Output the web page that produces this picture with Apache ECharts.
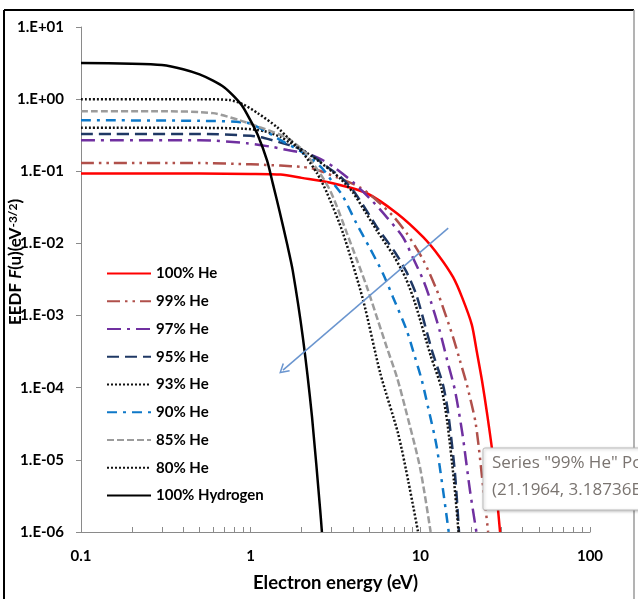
<!DOCTYPE html>
<html>
<head>
<meta charset="utf-8">
<script src="https://cdn.jsdelivr.net/npm/echarts@6/dist/echarts.min.js"></script>
<style>
  html, body { margin: 0; padding: 0; background: #fff; }
  #chart { width: 638px; height: 599px; }
</style>
</head>
<body>
<div id="chart"></div>
<script>
// EEDF curves: electron energy (eV) and F(u) (eV^-3/2)
const energyHe100 = [0.1, 0.5, 1.0, 1.5, 2.0, 3.0, 4.8, 7.3, 10.4, 13.0, 15.6, 17.6, 20.1, 21.5, 23.1, 24.7, 26.8, 29.5]
const eedfHe100 = [0.093, 0.093, 0.092, 0.09, 0.081, 0.069, 0.05, 0.026, 0.0122, 0.0065, 0.0034, 0.0018, 0.00075, 0.00032, 0.000125, 0.000045, 0.000011, 0.000001]

const energyHe99 = [0.1, 0.5, 1.0, 1.5, 2.0, 2.3, 3.2, 4.4, 5.5, 6.9, 8.3, 10.4, 12.5, 13.6, 15.6, 17.1, 18.8, 21.2, 23.4, 25.1]
const eedfHe99 = [0.13, 0.13, 0.125, 0.12, 0.115, 0.11, 0.083, 0.06, 0.04, 0.024, 0.0139, 0.0059, 0.00225, 0.0013, 0.0005, 0.00024, 0.00011, 0.0000319, 0.0000044, 0.000001]

const energyHe97 = [0.1, 0.5, 0.95, 1.35, 1.65, 2.25, 2.7, 3.1, 4.0, 5.25, 6.35, 7.9, 9.0, 10.4, 11.5, 13.0, 14.4, 16.0, 17.7, 19.6, 21.4]
const eedfHe97 = [0.27, 0.27, 0.245, 0.217, 0.197, 0.17, 0.14, 0.114, 0.071, 0.038, 0.023, 0.0122, 0.0065, 0.0031, 0.0016, 0.00062, 0.00024, 0.000092, 0.000023, 0.0000038, 0.000001]

const energyHe95 = [0.1, 0.5, 1.0, 1.2, 1.5, 1.9, 2.3, 2.9, 3.4, 4.0, 4.8, 5.55, 7.1, 8.3, 9.5, 11.7, 13.6, 14.6, 16.0, 16.9]
const eedfHe95 = [0.33, 0.33, 0.31, 0.29, 0.25, 0.21, 0.165, 0.11, 0.083, 0.055, 0.029, 0.0168, 0.0075, 0.004, 0.0019, 0.00033, 0.00011, 0.000044, 0.0000065, 0.000001]

const energyHe93 = [0.1, 0.5, 0.9, 1.2, 1.5, 1.7, 2.0, 2.5, 3.0, 3.4, 4.0, 4.8, 5.55, 7.0, 8.2, 9.3, 11.5, 13.3, 14.4, 15.8, 16.8]
const eedfHe93 = [0.4, 0.4, 0.39, 0.36, 0.3, 0.25, 0.2, 0.14, 0.1, 0.078, 0.051, 0.026, 0.015, 0.0066, 0.0033, 0.0015, 0.00028, 0.0001, 0.000034, 0.000005, 0.000001]

const energyHe90 = [0.1, 0.5, 0.95, 1.2, 1.5, 2.0, 2.6, 3.2, 3.5, 4.2, 5.0, 6.0, 6.9, 8.3, 9.3, 10.2, 11.1, 12.5, 14.7]
const eedfHe90 = [0.51, 0.5, 0.47, 0.37, 0.27, 0.185, 0.114, 0.06, 0.045, 0.019, 0.0089, 0.0039, 0.0018, 0.00063, 0.000265, 0.000127, 0.000054, 0.000015, 0.000001]

const energyHe85 = [0.1, 0.3, 0.6, 0.86, 1.13, 1.64, 2.03, 2.56, 2.93, 3.23, 3.69, 4.23, 4.84, 5.62, 6.35, 7.28, 8.12, 9.95, 11.5]
const eedfHe85 = [0.68, 0.68, 0.64, 0.51, 0.41, 0.29, 0.196, 0.094, 0.055, 0.032, 0.0139, 0.0059, 0.0025, 0.00086, 0.00036, 0.00014, 0.000054, 0.0000079, 0.000001]

const energyHe80 = [0.1, 0.5, 0.75, 0.9, 1.1, 1.43, 1.71, 2.03, 2.46, 2.82, 3.5, 4.6, 5.8, 7.4, 8.5, 9.7]
const eedfHe80 = [1.0, 1.0, 0.97, 0.85, 0.64, 0.41, 0.27, 0.18, 0.094, 0.05, 0.0139, 0.00164, 0.00016, 0.000023, 0.000005, 0.000001]

const energyH2 = [0.1, 0.2, 0.3, 0.4, 0.5, 0.6, 0.7, 0.8, 0.9, 1.0, 1.1, 1.25, 1.35, 1.48, 1.64, 1.77, 2.03, 2.3, 2.57, 2.63]
const eedfH2 = [3.16, 3.1, 2.97, 2.6, 2.2, 1.8, 1.45, 1.08, 0.78, 0.5, 0.32, 0.14, 0.068, 0.028, 0.0098, 0.0042, 0.0005, 0.000039, 0.000002, 0.000001]

// trend arrow (from, to) in data units
const arrowFrom = [14.6, 0.0163]
const arrowTo = [1.55, 0.000175]

// x axis tick positions (log decades plus 2..9)
const xTickValues = [0.1, 0.2, 0.3, 0.4, 0.5, 0.6, 0.7, 0.8, 0.9, 1, 2, 3, 4, 5, 6, 7, 8, 9, 10, 20, 30, 40, 50, 60, 70, 80, 90, 100]

const FONT = 'Lato'

const pairs = (xs, ys) => xs.map((x, i) => [x, ys[i]])

const makeSeries = (name, xs, ys, color, type, width) => ({
  name: name,
  type: 'line',
  data: pairs(xs, ys),
  symbol: 'none',
  smooth: 0.25,
  clip: true,
  lineStyle: { color: color, width: width || 2.5, type: type },
  itemStyle: { color: color },
})

const series = [
  makeSeries('100% He', energyHe100, eedfHe100, '#FF0000', 'solid'),
  makeSeries('99% He', energyHe99, eedfHe99, '#B0504B', [13, 5, 2.5, 5, 2.5, 5]),
  makeSeries('97% He', energyHe97, eedfHe97, '#7030A0', [14, 6, 3, 6]),
  makeSeries('95% He', energyHe95, eedfHe95, '#1F3864', [12, 6]),
  makeSeries('93% He', energyHe93, eedfHe93, '#111111', [2, 2]),
  makeSeries('90% He', energyHe90, eedfHe90, '#0E78C8', [10, 6, 3, 6]),
  makeSeries('85% He', energyHe85, eedfHe85, '#9C9C9C', [7, 3]),
  makeSeries('80% He', energyHe80, eedfHe80, '#111111', [2, 2]),
  makeSeries('100% Hydrogen', energyH2, eedfH2, '#000000', 'solid'),
]

// arrow annotation rides on the hydrogen series
series[8].markLine = {
  silent: true,
  animation: false,
  symbol: ['none', 'path://M5,0 L10,9 L8.8,9.8 L5,2.8 L1.2,9.8 L0,9 Z'],
  symbolSize: [11, 10],
  label: { show: false },
  lineStyle: { color: '#6A95CF', width: 1.5, type: 'solid' },
  data: [[{ coord: arrowFrom }, { coord: arrowTo }]],
}

const expLabel = v => {
  const e = Math.round(Math.log10(v))
  return '1.E' + (e < 0 ? '-' : '+') + String(Math.abs(e)).padStart(2, '0')
}

const chart = echarts.init(document.getElementById('chart'))

const option = {
  animation: false,
  backgroundColor: '#ffffff',
  textStyle: { fontFamily: FONT },
  grid: { left: 81, right: 48, top: 27, bottom: 67, containLabel: false, outerBoundsMode: 'none' },
  legend: {
    orient: 'vertical',
    left: 101,
    top: 261,
    itemWidth: 44,
    itemHeight: 14,
    itemGap: 12.75,
    itemStyle: { opacity: 0 },
    data: series.map(s => s.name),
    textStyle: { fontFamily: FONT, fontWeight: 'bold', fontSize: 15, color: '#000' },
  },
  xAxis: {
    type: 'log',
    logBase: 10,
    min: 0.1,
    max: 100,
    name: 'Electron energy (eV)',
    nameLocation: 'middle',
    nameGap: 42,
    nameTextStyle: { fontFamily: FONT, fontWeight: 'bold', fontSize: 18.5, color: '#000' },
    axisLine: { lineStyle: { color: '#8A8A8A', width: 1 } },
    axisTick: { inside: true, length: 5, lineStyle: { color: '#8A8A8A' }, customValues: xTickValues },
    splitLine: { show: false },
    axisLabel: {
      margin: 17,
      fontFamily: FONT,
      fontWeight: 'bold',
      fontSize: 15,
      color: '#000',
      formatter: v => String(v),
    },
  },
  yAxis: {
    type: 'log',
    logBase: 10,
    min: 0.000001,
    max: 10,
    interval: 1,
    axisLine: { show: true, lineStyle: { color: '#8A8A8A', width: 1 } },
    axisTick: { show: true, length: 5, lineStyle: { color: '#8A8A8A' } },
    splitLine: { show: false },
    axisLabel: {
      margin: 17,
      fontFamily: FONT,
      fontWeight: 'bold',
      fontSize: 15,
      color: '#000',
      formatter: expLabel,
    },
  },
  graphic: [
    // y axis title, rotated, sits over the tick labels as in the original
    {
      type: 'text',
      z: 60,
      x: 16,
      y: 262,
      rotation: Math.PI / 2,
      style: {
        text: '{b|EEDF }{i|F}{b|(u)(eV}{s|-3/2}{b|)}',
        align: 'center',
        verticalAlign: 'middle',
        rich: {
          b: { fontFamily: FONT, fontWeight: 'bold', fontSize: 17, fill: '#000' },
          i: { fontFamily: FONT, fontWeight: 'bold', fontStyle: 'italic', fontSize: 17, fill: '#000' },
          s: { fontFamily: FONT, fontWeight: 'bold', fontSize: 12, fill: '#000', verticalAlign: 'top' },
        },
      },
    },
    // screenshot frame
    { type: 'line', z: 50, shape: { x1: 4, y1: 10, x2: 4, y2: 599 }, style: { stroke: '#000', lineWidth: 2 } },
    { type: 'line', z: 50, shape: { x1: 4, y1: 10, x2: 634, y2: 10 }, style: { stroke: '#000', lineWidth: 2 } },
    { type: 'line', z: 50, shape: { x1: 634, y1: 10, x2: 634, y2: 599 }, style: { stroke: '#9A9A9A', lineWidth: 1.5 } },
    // Excel hover tooltip left in the picture
    {
      type: 'rect',
      z: 100,
      shape: { x: 483, y: 448, width: 170, height: 62, r: 2 },
      style: { fill: '#ffffff', stroke: '#BDBDBD', lineWidth: 1, shadowBlur: 3, shadowOffsetX: 1, shadowOffsetY: 1, shadowColor: 'rgba(0,0,0,0.25)' },
    },
    {
      type: 'text',
      z: 101,
      left: 492,
      top: 455,
      style: { text: 'Series "99% He" Point "21.1964"', font: '17px "Open Sans"', fill: '#7A7470' },
    },
    {
      type: 'text',
      z: 101,
      left: 492,
      top: 482,
      style: { text: '(21.1964, 3.18736E-05)', font: '17px "Open Sans"', fill: '#7A7470' },
    },
  ],
  series: series,
}

chart.setOption(option)
</script>
</body>
</html>
